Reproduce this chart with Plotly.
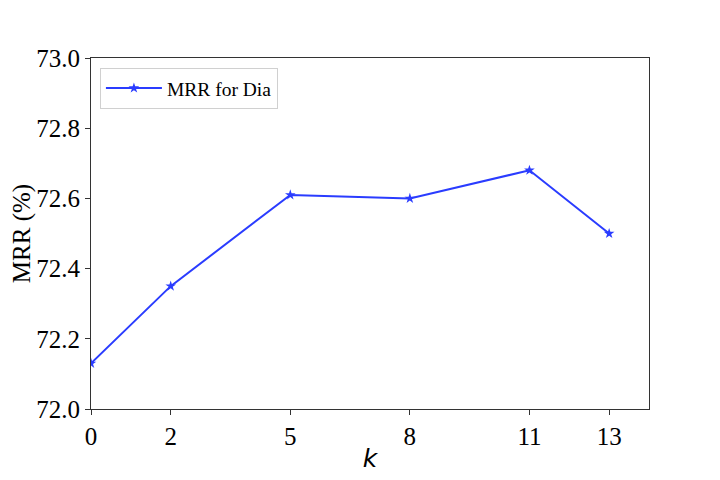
import plotly.graph_objects as go

k_values = [0, 2, 5, 8, 11, 13]
mrr_dia = [72.13, 72.35, 72.61, 72.60, 72.68, 72.50]
x_ticks = [0, 2, 5, 8, 11, 13]
y_ticks = [72.0, 72.2, 72.4, 72.6, 72.8, 73.0]

serif = 'Liberation Serif, serif'

fig = go.Figure()

# MRR Kurve
fig.add_trace(go.Scatter(x=k_values, y=mrr_dia, mode='lines+markers', name='MRR for Dia',
                         line=dict(color='#2a3cff', width=2),
                         marker=dict(symbol='star', size=8, color='#2a3cff')))

fig.update_layout(
    width=720, height=480,
    margin=dict(l=83, r=79, t=50, b=79),
    paper_bgcolor='white', plot_bgcolor='white',
    font=dict(family=serif, size=25, color='black'),
    showlegend=True,
    legend=dict(x=0.016, y=0.972, xanchor='left', yanchor='top',
                bgcolor='white', bordercolor='#d0d0d0', borderwidth=1,
                font=dict(size=19.5, family=serif), itemwidth=56),
)

fig.update_xaxes(range=[0, 14], tickvals=x_ticks, ticktext=[str(v) for v in x_ticks],
                 automargin=False, tickfont=dict(family=serif, size=25),
                 showgrid=False, zeroline=False, showline=True, linecolor='#333333', linewidth=1.2,
                 mirror=True, ticks='outside', ticklen=5, tickcolor='#333333',
                 title=dict(text='<i>k</i>', font=dict(family='DejaVu Sans', size=25), standoff=0))
fig.update_yaxes(range=[72.0, 73.0], tickvals=y_ticks, ticktext=['%.1f' % v for v in y_ticks],
                 automargin=False, tickfont=dict(family=serif, size=25),
                 showgrid=False, zeroline=False, showline=True, linecolor='#333333', linewidth=1.2,
                 mirror=True, ticks='outside', ticklen=5, tickcolor='#333333',
                 title=dict(text='MRR (%)', font=dict(family=serif, size=25), standoff=4))

fig.write_html("out.html")
